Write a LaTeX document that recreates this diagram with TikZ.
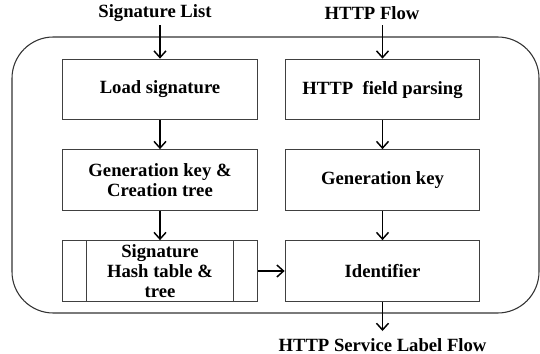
\documentclass[tikz,border=0pt]{standalone}
\usepackage{fontspec}
\setmainfont{Liberation Serif}
\usetikzlibrary{arrows.meta,calc}
\begin{document}
\begin{tikzpicture}[x=0.75pt,y=-0.75pt,
  every node/.style={font=\fontsize{14}{15}\selectfont\bfseries},
  stepbox/.style={draw=black!75, line width=0.8pt, minimum width=146pt,
    minimum height=45.5pt, inner sep=0pt, align=center},
  flow/.style={-{Straight Barb[length=5pt,width=9pt,line width=1.1pt]}, line width=1.1pt},
  outline/.style={draw=black!80, line width=0.8pt, rounded corners=31pt}]
\useasboundingbox (0,0) rectangle (540,354);
% outer frame
\draw[outline] (12,37) rectangle (539,313);
% inputs
\node (siglist) at (155,13) {Signature List};
\node (httpflow) at (372,13) {HTTP Flow};
\coordinate (sigstart) at (160,25);
\coordinate (httpstart) at (382.5,25);
% left column
\node[stepbox] (load) at (160,89.5) {Load signature};
\node[stepbox] (genL) at (160,180) {Generation key \&\\Creation tree};
\node[stepbox] (hash) at (160,271) {Signature\\Hash table \&\\tree};
\draw[draw=black!75, line width=0.8pt] ($(hash.north west)+(24,0)$) -- ($(hash.south west)+(24,0)$);
\draw[draw=black!75, line width=0.8pt] ($(hash.north east)+(-24,0)$) -- ($(hash.south east)+(-24,0)$);
% right column
\node[stepbox] (parse) at (382.5,89.5) {HTTP\ \ field parsing};
\node[stepbox] (genR) at (382.5,180) {Generation key};
\node[stepbox] (ident) at (382.5,271) {Identifier};
% output
\node (out) at (382.5,345) {HTTP Service Label Flow};
\coordinate (outtip) at (382.5,331);
% connectors
\draw[flow] (sigstart) -- (load.north);
\draw[flow] (httpstart) -- (parse.north);
\draw[flow] (load) -- (genL);
\draw[flow] (genL) -- (hash);
\draw[flow] (parse) -- (genR);
\draw[flow] (genR) -- (ident);
\draw[flow] (hash) -- (ident);
\draw[flow] (ident) -- (outtip);
\end{tikzpicture}
\end{document}
